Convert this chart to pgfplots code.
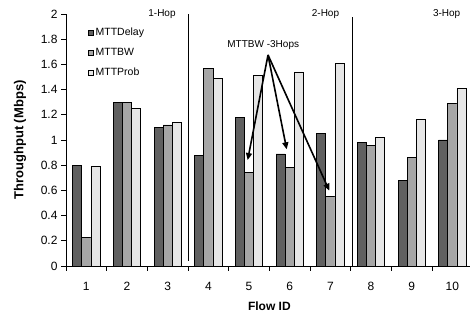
\documentclass[border=0pt]{standalone}
\usepackage{pgfplots}
\pgfplotsset{compat=1.18}
\usepackage{fontspec}
\setmainfont{Liberation Sans}
\usetikzlibrary{arrows.meta}
\definecolor{cDelay}{RGB}{96,96,96}
\definecolor{cBW}{RGB}{166,166,166}
\definecolor{cProb}{RGB}{230,230,230}
\begin{document}
\begin{tikzpicture}
\begin{axis}[
  at={(66pt,49pt)}, anchor=south west,
  scale only axis, width=406.7pt, height=252pt,
  xmin=0.5, xmax=10.5, ymin=0, ymax=2,
  axis x line=bottom, axis y line=left,
  axis line style={-, line width=0.6pt},
  clip=false,
  ybar=0pt, bar width=9.1pt,
  xtick={1,2,3,4,5,6,7,8,9,10},
  major x tick style={draw=none},
  minor xtick={0.5,1.5,2.5,3.5,4.5,5.5,6.5,7.5,8.5,9.5,10.5},
  ytick={0,0.2,0.4,0.6,0.8,1,1.2,1.4,1.6,1.8,2},
  tick align=outside, major tick length=5pt, minor tick length=5pt,
  tick style={black, line width=0.6pt},
  /pgf/number format/assume math mode=true,
  yticklabel style={font=\fontsize{12}{12}\selectfont, /pgf/number format/fixed, /pgf/number format/precision=1},
  xticklabel style={font=\fontsize{12}{12}\selectfont, yshift=-8pt},
  ylabel={Throughput (Mbps)},
  ylabel style={font=\bfseries\fontsize{13}{13}\selectfont, at={(axis description cs:-0.113,0.5)}, anchor=center},
  xlabel={Flow ID},
  xlabel style={font=\bfseries\fontsize{12}{12}\selectfont, at={(axis description cs:0.5,-0.16)}, anchor=center},
  legend style={draw=none, fill=none, at={(0.045,0.96)}, anchor=north west, font=\fontsize{10.5}{12}\selectfont, row sep=7pt},
  legend cell align=left,
  legend image code/.code={\draw[#1] (0pt,-2.7pt) rectangle (5.4pt,2.7pt);},
]
\addplot[fill=cDelay, draw=black, line width=0.7pt] coordinates {(1,0.80) (2,1.30) (3,1.10) (4,0.88) (5,1.18) (6,0.89) (7,1.05) (8,0.98) (9,0.68) (10,1.00)};
\addplot[fill=cBW, draw=black, line width=0.7pt] coordinates {(1,0.23) (2,1.30) (3,1.12) (4,1.57) (5,0.74) (6,0.78) (7,0.55) (8,0.96) (9,0.86) (10,1.29)};
\addplot[fill=cProb, draw=black, line width=0.7pt] coordinates {(1,0.79) (2,1.25) (3,1.14) (4,1.49) (5,1.51) (6,1.54) (7,1.61) (8,1.02) (9,1.16) (10,1.41)};
\legend{MTTDelay, MTTBW, MTTProb}
\draw[line width=0.6pt] (axis cs:3.5,0.04) -- (axis cs:3.5,2.0);
\draw[line width=0.6pt] (axis cs:7.54,0) -- (axis cs:7.54,1.98);
\node[font=\fontsize{10}{12}\selectfont] at (axis cs:2.86,2.0) {1-Hop};
\node[font=\fontsize{10}{12}\selectfont] at (axis cs:6.88,2.0) {2-Hop};
\node[font=\fontsize{10}{12}\selectfont] at (axis cs:9.86,2.0) {3-Hop};
\node[font=\fontsize{10}{12}\selectfont] at (axis cs:5.35,1.754) {MTTBW -3Hops};
\draw[line width=1.6pt, -{Triangle[length=7pt,width=6pt]}] (axis cs:5.467,1.675) -- (axis cs:4.967,0.841);
\draw[line width=1.6pt, -{Triangle[length=7pt,width=6pt]}] (axis cs:5.467,1.675) -- (axis cs:5.926,0.926);
\draw[line width=1.6pt, -{Triangle[length=7pt,width=6pt]}] (axis cs:5.467,1.675) -- (axis cs:6.974,0.598);
\end{axis}
\pgfresetboundingbox
\path (0,0) rectangle (470pt,315pt);
\end{tikzpicture}
\end{document}
